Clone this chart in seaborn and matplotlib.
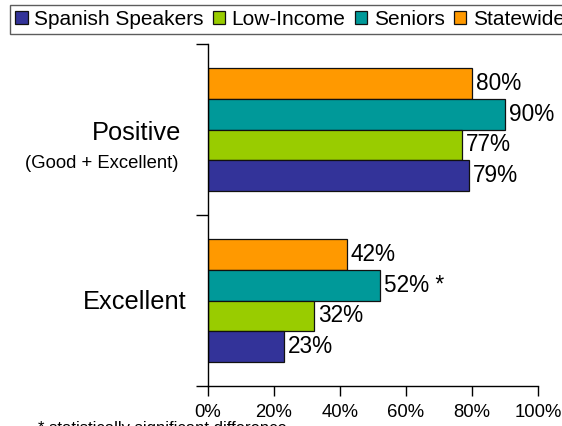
import matplotlib
matplotlib.use("Agg")
import matplotlib.pyplot as plt
from matplotlib.patches import Patch
from matplotlib.ticker import FixedLocator
import matplotlib.transforms as mtransforms
import seaborn as sns
import pandas as pd

# Survey ratings by group
measures = ["Positive", "Excellent"]
measure_notes = ["(Good + Excellent)", ""]
groups = ["Spanish Speakers", "Low-Income", "Seniors", "Statewide"]
spanish_speakers = [79, 23]
low_income = [77, 32]
seniors = [90, 52]
statewide = [80, 42]
significant = {("Seniors", "Excellent")}
colors = {"Spanish Speakers": "#333399", "Low-Income": "#99CC00",
          "Seniors": "#009999", "Statewide": "#FF9900"}
x_ticks = [0, 20, 40, 60, 80, 100]
footnote = "* statistically significant difference"

values = {"Spanish Speakers": spanish_speakers, "Low-Income": low_income,
          "Seniors": seniors, "Statewide": statewide}
rows = [(m, g, values[g][i]) for i, m in enumerate(measures) for g in groups]
df = pd.DataFrame(rows, columns=["measure", "group", "value"])

sns.set_theme(style="white")
plt.rcParams["font.family"] = ["Liberation Sans", "DejaVu Sans"]

W, H = 562, 426
fig = plt.figure(figsize=(W / 100, H / 100), dpi=100)
ax = fig.add_axes([208 / W, 1 - 386 / H, (538 - 208) / W, (386 - 44) / H])

# bars stacked top-to-bottom: Statewide, Seniors, Low-Income, Spanish Speakers
hue_order = groups[::-1]
sns.barplot(data=df, y="measure", x="value", hue="group", order=measures,
            hue_order=hue_order, palette=colors, saturation=1, orient="h",
            width=0.725, edgecolor="#111111", linewidth=0.9, legend=False, ax=ax)

for container, g in zip(ax.containers, hue_order):
    labels = []
    for i, m in enumerate(measures):
        txt = f"{values[g][i]:.0f}%"
        if (g, m) in significant:
            txt += " *"
        labels.append(txt)
    ax.bar_label(container, labels=labels, padding=3, fontsize=16.3, color="black")

ax.set_xlim(0, 100)
ax.set_ylim(len(measures) - 0.5, -0.5)
ax.set_xticks(x_ticks)
ax.set_xticklabels([f"{t}%" for t in x_ticks], fontsize=13.3)
ax.set_xlabel("")
ax.set_ylabel("")

# category boundaries as ticks on the left axis
ax.yaxis.set_major_locator(FixedLocator([i - 0.5 for i in range(len(measures) + 1)]))
ax.set_yticklabels([])
ax.tick_params(axis="y", which="major", direction="out", length=9, width=1,
               color="black", left=True)
ax.tick_params(axis="x", direction="out", length=7, width=1, color="black",
               bottom=True, pad=6, labelcolor="black")

for s in ["top", "right"]:
    ax.spines[s].set_visible(False)
for s in ["left", "bottom"]:
    ax.spines[s].set_color("black")
    ax.spines[s].set_linewidth(1.0)

# category names to the left of the axis
trans = mtransforms.blended_transform_factory(fig.transFigure, ax.transData)
label_right = {"Positive": 181, "Excellent": 187}
for i, (m, note) in enumerate(zip(measures, measure_notes)):
    if note:
        ax.text(label_right[m] / W, i + 0.02, m, transform=trans, ha="right",
                va="center", fontsize=18.3, color="black")
        ax.text(179 / W, i + 0.2, note, transform=trans, ha="right",
                va="center", fontsize=13.3, color="black")
    else:
        ax.text(label_right[m] / W, i + 0.01, m, transform=trans, ha="right",
                va="center", fontsize=18.3, color="black")

# legend across the top
handles = [Patch(facecolor=colors[g], edgecolor="#111111", linewidth=0.9) for g in groups]
leg = fig.legend(handles, groups, loc="upper left",
                 bbox_to_anchor=(10 / W, 1 - 5 / H), ncol=4, frameon=True,
                 fancybox=False, fontsize=15, handlelength=0.6, handleheight=0.6,
                 handletextpad=0.3, columnspacing=0.45, borderpad=0.25,
                 borderaxespad=0)
leg.get_frame().set_edgecolor("#333333")
leg.get_frame().set_linewidth(1.0)
for t in leg.get_texts():
    t.set_color("black")

# footnote below the axis, partly past the bottom edge
fig.text(38 / W, 1 - 421 / H, footnote, ha="left", va="top", fontsize=12,
         color="black")

fig.savefig("out.png", dpi=100, facecolor="white")
